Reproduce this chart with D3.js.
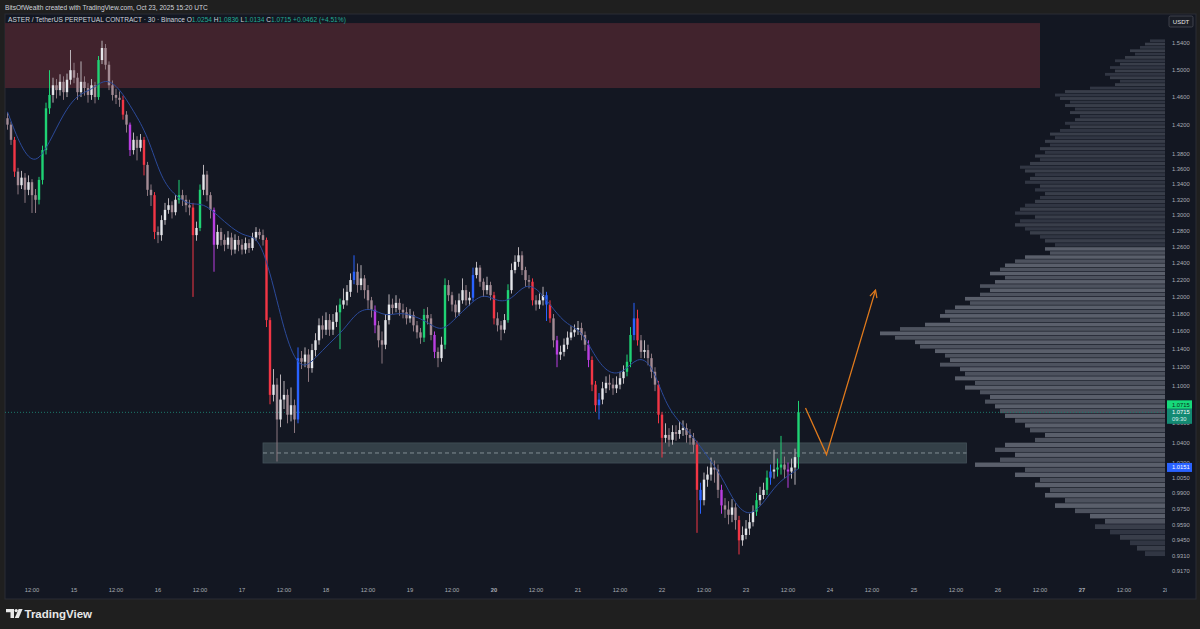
<!DOCTYPE html>
<html><head><meta charset="utf-8">
<script src="https://cdn.jsdelivr.net/npm/d3@7"></script>
<style>
html,body{margin:0;padding:0;background:#1f1f1f;overflow:hidden;}
svg{display:block;}
text{font-family:"Liberation Sans",Arial,sans-serif;}
</style></head><body>
<svg id="c" width="1200" height="629"></svg>
<script>
// ---------- DATA ----------
const startTime = Date.UTC(2025, 9, 14, 5);   // first hourly bar, Oct 14 05:00 UTC
const firstOpen = 1.430;
const closes = [
1.421,1.400,1.357,1.339,1.349,1.333,1.343,1.326,1.320,1.346,
1.386,1.444,1.463,1.477,1.470,1.482,1.467,1.485,1.499,1.488,
1.467,1.482,1.473,1.463,1.477,1.460,1.514,1.532,1.507,1.477,
1.463,1.459,1.456,1.435,1.421,1.386,1.400,1.389,1.400,1.366,
1.333,1.326,1.279,1.275,1.294,1.307,1.313,1.304,1.320,1.326,
1.320,1.313,1.310,1.275,1.284,1.333,1.353,1.326,1.307,1.263,
1.279,1.269,1.263,1.272,1.257,1.269,1.263,1.257,1.265,1.259,
1.272,1.279,1.275,1.269,1.173,1.090,1.101,1.064,1.085,1.090,
1.069,1.079,1.064,1.130,1.126,1.134,1.119,1.139,1.150,1.167,
1.162,1.173,1.162,1.171,1.182,1.191,1.196,1.206,1.220,1.230,
1.214,1.222,1.208,1.196,1.185,1.167,1.150,1.145,1.173,1.191,
1.187,1.193,1.185,1.182,1.175,1.179,1.167,1.159,1.153,1.179,
1.175,1.156,1.137,1.130,1.145,1.214,1.202,1.191,1.182,1.196,
1.208,1.196,1.199,1.226,1.235,1.218,1.208,1.214,1.202,1.175,
1.167,1.162,1.173,1.208,1.232,1.242,1.250,1.232,1.220,1.218,
1.196,1.191,1.196,1.202,1.191,1.175,1.150,1.134,1.137,1.145,
1.153,1.159,1.162,1.164,1.156,1.145,1.128,1.101,1.079,1.085,
1.097,1.103,1.101,1.097,1.101,1.108,1.115,1.126,1.156,1.175,
1.150,1.137,1.139,1.130,1.115,1.101,1.069,1.045,1.048,1.043,
1.051,1.049,1.053,1.055,1.048,1.045,1.038,0.993,0.983,1.003,
1.008,1.015,1.013,0.993,0.978,0.974,0.969,0.976,0.964,0.945,
0.950,0.956,0.962,0.972,0.983,0.988,0.993,1.005,1.011,1.013,
1.015,1.018,1.013,1.011,1.015,1.0254,1.0715];
const highs = [
1.438,1.425,1.404,1.362,1.358,1.355,1.352,1.347,1.334,1.350,
1.392,1.452,1.499,1.488,1.486,1.493,1.490,1.494,1.529,1.510,
1.495,1.512,1.490,1.480,1.486,1.482,1.520,1.543,1.538,1.512,
1.484,1.472,1.468,1.462,1.440,1.424,1.410,1.405,1.408,1.404,
1.370,1.340,1.330,1.286,1.300,1.316,1.322,1.318,1.326,1.346,
1.333,1.326,1.320,1.316,1.292,1.340,1.366,1.358,1.330,1.310,
1.288,1.284,1.276,1.280,1.278,1.276,1.274,1.270,1.272,1.270,
1.278,1.285,1.283,1.282,1.272,1.176,1.118,1.108,1.112,1.105,
1.096,1.098,1.085,1.142,1.138,1.142,1.140,1.146,1.158,1.175,
1.178,1.182,1.180,1.180,1.190,1.198,1.210,1.214,1.228,1.250,
1.240,1.238,1.226,1.214,1.200,1.190,1.172,1.160,1.180,1.203,
1.198,1.202,1.198,1.192,1.188,1.186,1.183,1.172,1.164,1.186,
1.188,1.180,1.160,1.142,1.154,1.222,1.220,1.206,1.196,1.204,
1.222,1.214,1.206,1.235,1.242,1.238,1.222,1.224,1.218,1.206,
1.182,1.172,1.180,1.215,1.240,1.250,1.260,1.255,1.236,1.226,
1.222,1.202,1.204,1.212,1.206,1.196,1.180,1.155,1.144,1.152,
1.160,1.166,1.168,1.172,1.170,1.160,1.150,1.132,1.105,1.092,
1.104,1.110,1.112,1.108,1.110,1.115,1.122,1.134,1.165,1.193,
1.185,1.156,1.150,1.145,1.135,1.120,1.105,1.072,1.060,1.055,
1.058,1.058,1.062,1.063,1.060,1.054,1.050,1.042,1.000,1.010,
1.016,1.025,1.022,1.018,0.998,0.985,0.982,0.984,0.980,0.968,
0.958,0.964,0.970,0.978,0.990,0.996,1.000,1.012,1.018,1.033,
1.024,1.047,1.026,1.020,1.024,1.034,1.0836];
const lows = [
1.414,1.393,1.350,1.327,1.334,1.316,1.326,1.303,1.303,1.314,
1.340,1.380,1.436,1.452,1.458,1.462,1.456,1.460,1.478,1.480,
1.456,1.460,1.462,1.452,1.456,1.451,1.456,1.508,1.500,1.470,
1.455,1.450,1.446,1.428,1.410,1.378,1.380,1.372,1.384,1.352,
1.325,1.312,1.270,1.265,1.268,1.288,1.302,1.296,1.300,1.315,
1.312,1.304,1.300,1.200,1.268,1.280,1.326,1.318,1.296,1.230,
1.258,1.262,1.255,1.258,1.250,1.252,1.255,1.251,1.252,1.253,
1.256,1.268,1.270,1.262,1.165,1.080,1.083,1.021,1.056,1.075,
1.060,1.062,1.050,1.060,1.118,1.120,1.104,1.114,1.132,1.145,
1.152,1.156,1.155,1.156,1.165,1.140,1.186,1.190,1.200,1.215,
1.205,1.208,1.198,1.186,1.176,1.158,1.142,1.124,1.140,1.168,
1.180,1.182,1.178,1.175,1.168,1.170,1.160,1.152,1.146,1.148,
1.168,1.150,1.130,1.120,1.126,1.140,1.195,1.183,1.176,1.178,
1.192,1.190,1.190,1.195,1.222,1.212,1.200,1.203,1.196,1.168,
1.160,1.150,1.158,1.170,1.204,1.228,1.236,1.226,1.212,1.210,
1.190,1.184,1.186,1.190,1.172,1.170,1.142,1.120,1.128,1.132,
1.140,1.150,1.154,1.156,1.150,1.138,1.120,1.094,1.072,1.064,
1.080,1.092,1.095,1.090,1.092,1.096,1.102,1.110,1.120,1.150,
1.144,1.130,1.130,1.122,1.108,1.094,1.060,1.025,1.040,1.036,
1.038,1.042,1.044,1.047,1.040,1.038,1.030,0.952,0.970,0.978,
0.996,1.002,1.000,0.985,0.970,0.966,0.960,0.962,0.955,0.932,
0.940,0.946,0.950,0.958,0.968,0.978,0.984,0.988,0.998,1.004,
1.006,1.008,1.004,0.995,1.004,0.998,1.0134];
// highlighted bars (indicator colouring)
const greenBars  = [9,10,11,12,26,49,55,95,119,125,143,177,178,214,217,220,221,226];
const redBars    = [2,33,39,42,53,74,75,139,150,155,167,168,180,186,187,197,209];
const blueBars   = [83,99,133,154,169,179,198,218];
const purpleBars = [35,59,105,122,157,166,204,223];
// moving average, read every 4 hours
const maHours  = [0,4,8,12,16,20,24,28,32,36,40,44,48,52,56,60,64,68,72,76,80,84,88,92,96,100,104,108,112,116,120,124,128,132,136,140,144,148,152,156,160,164,168,172,176,180,184,188,192,196,200,204,208,212,216,220,224,226];
const maValues = [1.439,1.387,1.365,1.396,1.437,1.464,1.470,1.488,1.473,1.440,
 1.407,1.346,1.325,1.313,1.316,1.300,1.284,1.273,1.273,1.214,
 1.145,1.116,1.130,1.147,1.161,1.184,1.187,1.177,1.182,1.178,
 1.171,1.159,1.175,1.191,1.205,1.194,1.196,1.217,1.208,1.185,
 1.167,1.162,1.130,1.112,1.114,1.132,1.125,1.080,1.061,1.046,
 1.026,1.007,0.978,0.967,0.980,1.000,1.009,1.014];
// price axis ticks
const priceTicks = [1.54,1.50,1.46,1.42,1.38,1.36,1.34,1.32,1.30,1.28,1.26,1.24,1.22,1.20,1.18,1.16,1.14,1.12,1.10,1.08,1.06,1.04,1.02,1.005,0.99,0.975,0.959,0.945,0.931,0.917];
// volume profile rows (price bins from profileStart, step profileStep)
const profileStart = 0.930, profileStep = 0.005;
const profileVolumes = [
20,28,35,45,55,70,60,75,90,110,
100,120,115,130,125,150,140,190,165,150,
170,160,130,120,135,140,150,160,165,170,
180,175,185,200,190,210,200,205,225,215,
220,230,245,250,270,285,265,240,215,225,
220,210,195,200,185,175,185,170,160,175,
165,160,150,140,115,120,110,120,125,135,
140,150,145,130,150,145,140,130,125,120,
130,125,140,135,130,140,145,135,125,130,
120,125,115,120,110,115,105,95,100,90,
85,95,90,100,95,105,110,100,75,50,
45,55,60,50,55,45,50,40,30,35,
25,20,15];
const valueAreaLow = 0.960, valueAreaHigh = 1.260;
// drawings
const supplyZone  = {t0: Date.UTC(2025,9,13,0), t1: Date.UTC(2025,9,26,12), p0: 1.473, p1: 1.570};
const demandZone  = {t0: Date.UTC(2025,9,17,6), t1: Date.UTC(2025,9,25,15), p0: 1.0195, p1: 1.0398, mid: 1.0296};
const pathTimes   = [Date.UTC(2025,9,23,17), Date.UTC(2025,9,23,23), Date.UTC(2025,9,24,13)];
const pathPrices  = [1.076, 1.028, 1.208];
const lastPrice = 1.0715, lineLevel = 1.0151;

// ---------- LAYOUT ----------
const W = 1200, H = 629;
const plot = {l: 5, r: 1165, t: 14, b: 580};
const svg = d3.select('#c');
const x = d3.scaleUtc().domain([Date.UTC(2025,9,14,0), Date.UTC(2025,9,28,0)]).range([-10, 1166]);
const y = d3.scaleLog().domain([0.917, 1.54]).range([571, 42.7]);
const volX = d3.scaleLinear().domain([0, d3.max(profileVolumes)]).range([0, 285]);
const barTime = i => new Date(startTime + i * 3600e3);

// backgrounds
svg.append('rect').attr('width', W).attr('height', H).attr('fill', '#1f1f1f');
svg.append('rect').attr('x', 5).attr('y', 14).attr('width', 1191).attr('height', 585).attr('fill', '#131722').attr('stroke','#2a2d35').attr('stroke-width',1);
svg.append('text').attr('x', 5).attr('y', 10).attr('fill', '#d1d4dc').attr('font-size', 6.6)
  .text('BitsOfWealth created with TradingView.com, Oct 23, 2025 15:20 UTC');

const defs = svg.append('defs');
defs.append('clipPath').attr('id','plotclip').append('rect')
  .attr('x', plot.l).attr('y', plot.t).attr('width', plot.r - plot.l).attr('height', plot.b - plot.t);
defs.append('clipPath').attr('id','timeclip').append('rect')
  .attr('x', plot.l).attr('y', plot.b).attr('width', 1167 - plot.l).attr('height', 20);
defs.append('marker').attr('id','arr').attr('viewBox','0 0 10 10').attr('refX',9).attr('refY',5)
  .attr('markerWidth',7).attr('markerHeight',7).attr('orient','auto')
  .append('path').attr('d','M1,1 L9,5 L1,9').attr('fill','none').attr('stroke','#e07a1c').attr('stroke-width',1.4);

const g = svg.append('g').attr('clip-path','url(#plotclip)');

// supply zone
g.append('rect').attr('x', x(supplyZone.t0)).attr('y', y(supplyZone.p1))
  .attr('width', x(supplyZone.t1) - x(supplyZone.t0)).attr('height', y(supplyZone.p0) - y(supplyZone.p1))
  .attr('fill', '#41232d');

// volume profile
const prof = g.append('g');
profileVolumes.forEach((v, k) => {
  const pLo = profileStart + k * profileStep, pHi = pLo + profileStep;
  const inVA = pLo >= valueAreaLow && pLo < valueAreaHigh;
  const yt = y(pHi), yb = y(pLo);
  prof.append('rect').attr('x', plot.r - volX(v)).attr('y', yt)
    .attr('width', volX(v)).attr('height', Math.max(0.8, yb - yt - 0.6))
    .attr('fill', inVA ? (k % 2 ? '#5a5f6b' : '#4d525e') : (k % 2 ? '#393e4a' : '#313643'));
});

// demand zone
g.append('rect').attr('x', x(demandZone.t0)).attr('y', y(demandZone.p1))
  .attr('width', x(demandZone.t1) - x(demandZone.t0)).attr('height', y(demandZone.p0) - y(demandZone.p1))
  .attr('fill', '#36434b').attr('opacity', 0.95).attr('stroke', '#47545c').attr('stroke-width', 0.8);
g.append('line').attr('x1', x(demandZone.t0)).attr('x2', x(demandZone.t1))
  .attr('y1', y(demandZone.mid)).attr('y2', y(demandZone.mid))
  .attr('stroke', '#8a959c').attr('stroke-width', 0.9).attr('stroke-dasharray', '4,3');

// last price dotted line
g.append('line').attr('x1', plot.l).attr('x2', plot.r).attr('y1', y(lastPrice)).attr('y2', y(lastPrice))
  .attr('stroke', '#1c7a6c').attr('stroke-width', 1).attr('stroke-dasharray', '1,2');

// candles
const colorOf = i => {
  if (greenBars.includes(i)) return '#1fd374';
  if (redBars.includes(i)) return '#f23645';
  if (blueBars.includes(i)) return '#2962ff';
  if (purpleBars.includes(i)) return '#b93ee0';
  return null;
};
const bars = closes.map((c, i) => ({i, t: barTime(i), o: i === 0 ? firstOpen : closes[i-1], h: highs[i], l: lows[i], c}));
const cg = g.append('g');
bars.forEach(d => {
  const cx = x(d.t);
  const up = d.c >= d.o;
  const special = colorOf(d.i);
  const wickCol = special || (up ? '#b9b3b8' : '#8c7880');
  const bodyCol = special || (up ? '#e4e6ea' : '#a48c95');
  cg.append('line').attr('x1', cx).attr('x2', cx).attr('y1', y(d.h)).attr('y2', y(d.l))
    .attr('stroke', wickCol).attr('stroke-width', 1);
  const yt = y(Math.max(d.o, d.c)), yb = y(Math.min(d.o, d.c));
  cg.append('rect').attr('x', cx - 1.2).attr('y', yt).attr('width', 2.4).attr('height', Math.max(1, yb - yt))
    .attr('fill', bodyCol);
});

// moving average
g.append('path').datum(maHours.map((h, k) => [barTime(h), maValues[k]]))
  .attr('d', d3.line().x(d => x(d[0])).y(d => y(d[1])).curve(d3.curveBasis))
  .attr('fill', 'none').attr('stroke', '#2b4a9a').attr('stroke-width', 1);

// projected path
g.append('path').datum(pathTimes.map((t, k) => [t, pathPrices[k]]))
  .attr('d', d3.line().x(d => x(d[0])).y(d => y(d[1])))
  .attr('fill', 'none').attr('stroke', '#e07a1c').attr('stroke-width', 1.3).attr('marker-end', 'url(#arr)');

// legend
const lg = svg.append('text').attr('x', 8).attr('y', 21.5).attr('font-size', 6.6).attr('fill', '#d1d4dc');
lg.append('tspan').text('ASTER / TetherUS PERPETUAL CONTRACT · 30 · Binance  ');
const ohlc = [['O','1.0254'],['H','1.0836'],['L','1.0134'],['C','1.0715']];
ohlc.forEach(([k, v]) => { lg.append('tspan').text(' ' + k); lg.append('tspan').attr('fill', '#22ab94').text(v); });
lg.append('tspan').attr('fill', '#22ab94').text('  +0.0462 (+4.51%)');

// price axis
const pa = svg.append('g');
priceTicks.forEach(p => {
  pa.append('text').attr('x', 1172).attr('y', y(p) + 2).attr('font-size', 5.8).attr('fill', '#a9acb5').text(p.toFixed(4));
});
// USDT box
pa.append('rect').attr('x', 1169).attr('y', 16).attr('width', 24).attr('height', 11).attr('rx', 1.5)
  .attr('fill', '#1a1d26').attr('stroke', '#4a4d57').attr('stroke-width', 0.8);
pa.append('text').attr('x', 1181).attr('y', 23.6).attr('text-anchor', 'middle').attr('font-size', 6).attr('fill', '#e6e6e6').text('USDT');
// price labels
const yl = y(lastPrice);
pa.append('rect').attr('x', 1167).attr('y', yl - 12).attr('width', 25).attr('height', 8.5).attr('fill', '#16d97a');
pa.append('text').attr('x', 1172).attr('y', yl - 5.6).attr('font-size', 5.8).attr('fill', '#0b2a1c').text(lastPrice.toFixed(4));
pa.append('rect').attr('x', 1167).attr('y', yl - 3.5).attr('width', 25).attr('height', 15).attr('fill', '#138a73');
pa.append('text').attr('x', 1172).attr('y', yl + 2).attr('font-size', 5.8).attr('fill', '#ffffff').text(lastPrice.toFixed(4));
pa.append('text').attr('x', 1172).attr('y', yl + 9).attr('font-size', 5.8).attr('fill', '#d8efe9').text('09:30');
const yb2 = y(lineLevel);
pa.append('rect').attr('x', 1167).attr('y', yb2 - 4.5).attr('width', 25).attr('height', 9).attr('fill', '#2962ff');
pa.append('text').attr('x', 1172).attr('y', yb2 + 2).attr('font-size', 5.8).attr('fill', '#ffffff').text(lineLevel.toFixed(4));

// time axis
const ta = svg.append('g').attr('clip-path', 'url(#timeclip)');
const tticks = d3.utcHour.every(12).range(new Date(Date.UTC(2025,9,14,12)), new Date(Date.UTC(2025,9,28,1)));
tticks.forEach(t => {
  const h = t.getUTCHours();
  const day = t.getUTCDate();
  const lbl = h === 0 ? String(day) : '12:00';
  ta.append('text').attr('x', x(t)).attr('y', 592).attr('text-anchor', 'middle').attr('font-size', 5.8)
    .attr('fill', '#a9acb5').attr('font-weight', (h === 0 && (day === 20 || day === 27)) ? 'bold' : 'normal').text(lbl);
});

// TradingView logo
const logo = svg.append('g').attr('fill', '#e8e8e8');
logo.append('path').attr('d', 'M6,609 H14 V618 H10.5 V612.2 H6 Z');
logo.append('circle').attr('cx', 16.2).attr('cy', 610.6).attr('r', 1.6);
logo.append('path').attr('d', 'M18.6,609 H22.6 L18.8,618 H14.8 Z');
svg.append('text').attr('x', 24.5).attr('y', 617.5).attr('font-size', 11.5).attr('font-weight', 'bold')
  .attr('fill', '#e8e8e8').attr('font-family', 'Lato, "Liberation Sans", sans-serif').text('TradingView');
</script>
</body></html>
